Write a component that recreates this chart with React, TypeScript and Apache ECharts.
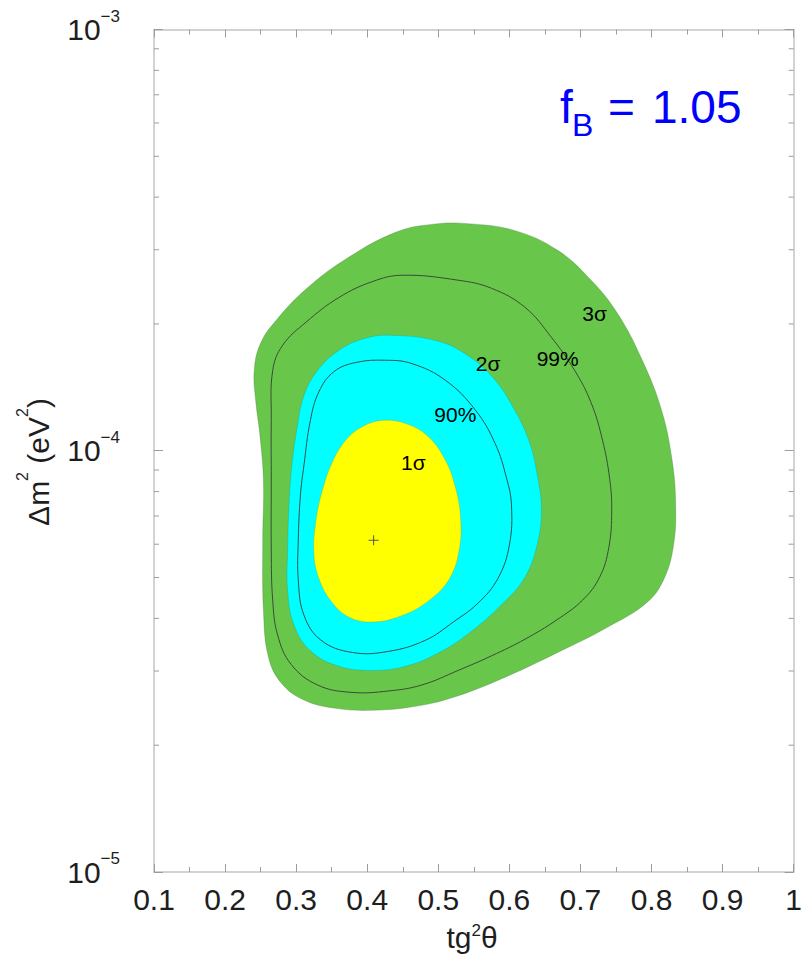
import React, { useEffect, useRef } from "react";
import * as echarts from "echarts";

const X_MIN = 0.1;
const X_MAX = 1;
const X_STEP = 0.1;
const Y_MIN = 1e-5;
const Y_MAX = 1e-3;

const yMinorTicks = [
  2e-5, 3e-5, 4e-5, 5e-5, 6e-5, 7e-5, 8e-5, 9e-5,
  2e-4, 3e-4, 4e-4, 5e-4, 6e-4, 7e-4, 8e-4, 9e-4,
];

// 3 sigma region (outer green)
const region3Sigma: [number, number][] = [
  [0.542, 3.46e-4], [0.608, 3.33e-4], [0.668, 2.99e-4], [0.715, 2.54e-4],
  [0.752, 2.12e-4], [0.787, 1.64e-4], [0.814, 1.25e-4], [0.829, 9.49e-5],
  [0.834, 7.43e-5], [0.831, 5.97e-5], [0.818, 4.98e-5], [0.794, 4.37e-5],
  [0.738, 3.81e-5], [0.668, 3.32e-5], [0.598, 2.92e-5], [0.528, 2.62e-5],
  [0.472, 2.48e-5], [0.407, 2.42e-5], [0.353, 2.45e-5], [0.311, 2.56e-5],
  [0.279, 2.81e-5], [0.261, 3.24e-5], [0.254, 4.18e-5], [0.253, 6.13e-5],
  [0.254, 8.51e-5], [0.249, 1.09e-4], [0.243, 1.32e-4], [0.241, 1.55e-4],
  [0.250, 1.80e-4], [0.274, 2.06e-4], [0.314, 2.42e-4], [0.367, 2.83e-4],
  [0.440, 3.30e-4], [0.493, 3.45e-4],
];

// 99% CL line
const line99: [number, number][] = [
  [0.449, 2.61e-4], [0.528, 2.54e-4], [0.575, 2.43e-4], [0.622, 2.19e-4],
  [0.659, 1.86e-4], [0.692, 1.55e-4], [0.715, 1.30e-4], [0.731, 1.06e-4],
  [0.741, 8.61e-5], [0.744, 7.22e-5], [0.740, 5.90e-5], [0.727, 5.01e-5],
  [0.703, 4.42e-5], [0.666, 3.96e-5], [0.622, 3.57e-5], [0.575, 3.26e-5],
  [0.528, 3.01e-5], [0.477, 2.78e-5], [0.430, 2.69e-5], [0.377, 2.67e-5],
  [0.330, 2.78e-5], [0.293, 3.11e-5], [0.274, 3.65e-5], [0.267, 4.42e-5],
  [0.265, 5.81e-5], [0.265, 8.51e-5], [0.265, 1.18e-4], [0.267, 1.55e-4],
  [0.281, 1.78e-4], [0.314, 2.02e-4], [0.360, 2.31e-4], [0.407, 2.52e-4],
];

// 2 sigma region (cyan)
const region2Sigma: [number, number][] = [
  [0.430, 1.88e-4], [0.500, 1.82e-4], [0.542, 1.68e-4], [0.577, 1.49e-4],
  [0.605, 1.27e-4], [0.628, 1.05e-4], [0.640, 8.61e-5], [0.645, 7.22e-5],
  [0.639, 5.97e-5], [0.621, 4.98e-5], [0.587, 4.28e-5], [0.545, 3.71e-5],
  [0.500, 3.31e-5], [0.454, 3.08e-5], [0.407, 3.01e-5], [0.360, 3.08e-5],
  [0.321, 3.34e-5], [0.297, 3.86e-5], [0.288, 4.67e-5], [0.288, 5.81e-5],
  [0.290, 7.43e-5], [0.294, 9.24e-5], [0.302, 1.15e-4], [0.311, 1.35e-4],
  [0.330, 1.55e-4], [0.360, 1.73e-4], [0.393, 1.84e-4],
];

// 90% CL line
const line90: [number, number][] = [
  [0.426, 1.64e-4], [0.463, 1.61e-4], [0.510, 1.47e-4], [0.552, 1.25e-4],
  [0.580, 1.04e-4], [0.596, 8.61e-5], [0.603, 7.43e-5], [0.600, 5.97e-5],
  [0.584, 4.98e-5], [0.556, 4.35e-5], [0.521, 3.92e-5], [0.482, 3.55e-5],
  [0.430, 3.34e-5], [0.379, 3.32e-5], [0.335, 3.55e-5], [0.311, 4.07e-5],
  [0.303, 4.93e-5], [0.303, 6.13e-5], [0.306, 7.84e-5], [0.311, 9.24e-5],
  [0.320, 1.18e-4], [0.332, 1.38e-4], [0.353, 1.54e-4], [0.384, 1.62e-4],
];

// 1 sigma region (yellow)
const region1Sigma: [number, number][] = [
  [0.421, 1.18e-4], [0.454, 1.16e-4], [0.486, 1.08e-4], [0.510, 9.49e-5],
  [0.524, 8.19e-5], [0.531, 7.03e-5], [0.530, 5.90e-5], [0.516, 4.98e-5],
  [0.486, 4.40e-5], [0.447, 4.05e-5], [0.407, 3.92e-5], [0.374, 4.03e-5],
  [0.349, 4.40e-5], [0.332, 4.98e-5], [0.325, 5.71e-5], [0.328, 6.84e-5],
  [0.337, 8.06e-5], [0.351, 9.39e-5], [0.370, 1.06e-4], [0.393, 1.14e-4],
];

const bestFit: [number, number][] = [[0.409, 6.13e-5]];

const contourLabels = ["1σ", "90%", "2σ", "99%", "3σ"];
const contourLabelX = [0.465, 0.524, 0.570, 0.668, 0.720];
const contourLabelY = [9.4e-5, 1.22e-4, 1.61e-4, 1.66e-4, 2.12e-4];

const FONT = "'Liberation Sans', Arial, Helvetica, sans-serif";
const GREEN = "#68c74a";
const CYAN = "#00ffff";
const YELLOW = "#ffff00";
const AXIS_COLOR = "#c4c4c4";
const TICK_COLOR = "#9c9c9c";
const TEXT_COLOR = "#1e1e1e";

function polygonSeries(pts: [number, number][], fill: string, stroke: string, lineWidth: number, z: number) {
  return {
    type: "custom",
    coordinateSystem: "cartesian2d",
    xAxisIndex: 0,
    yAxisIndex: 0,
    silent: true,
    z,
    data: pts,
    renderItem: (params: any, api: any) => {
      if (params.dataIndex !== 0) return null;
      const points = pts.map((p) => api.coord(p));
      return {
        type: "polygon",
        shape: { points, smooth: 0.4 },
        style: { fill, stroke, lineWidth },
      };
    },
  };
}

export default function App() {
  const ref = useRef<HTMLDivElement>(null);

  useEffect(() => {
    if (!ref.current) return;
    const chart = echarts.init(ref.current, undefined, { renderer: "svg" });

    const xAxisBase = {
      type: "value",
      min: X_MIN,
      max: X_MAX,
      interval: X_STEP,
      splitLine: { show: false },
      axisLine: { show: true, lineStyle: { color: AXIS_COLOR, width: 1.5 } },
      axisTick: { show: true, inside: true, length: 8, lineStyle: { color: TICK_COLOR, width: 1 } },
      minorTick: { show: true, splitNumber: 2, length: 5, lineStyle: { color: TICK_COLOR, width: 1 } },
    };
    const yAxisBase = {
      type: "log",
      logBase: 10,
      min: Y_MIN,
      max: Y_MAX,
      splitLine: { show: false },
      axisLine: { show: true, lineStyle: { color: AXIS_COLOR, width: 1.5 } },
      axisTick: { show: true, inside: true, length: 9, lineStyle: { color: TICK_COLOR, width: 1 } },
      minorTick: { show: false },
    };

    const option: any = {
      animation: false,
      backgroundColor: "#ffffff",
      grid: { left: 154, right: 8, top: 29.5, bottom: 85, containLabel: false },
      xAxis: [
        {
          ...xAxisBase,
          position: "bottom",
          axisLabel: {
            show: true,
            fontSize: 30,
            fontFamily: FONT,
            color: TEXT_COLOR,
            margin: 12,
            interval: 0,
            showMinLabel: true,
            showMaxLabel: true,
            hideOverlap: false,
            formatter: (v: number) => String(Number(v.toFixed(1))),
          },
        },
        { ...xAxisBase, position: "top", axisLabel: { show: false } },
      ],
      yAxis: [
        {
          ...yAxisBase,
          position: "left",
          axisLabel: {
            show: true,
            margin: 34,
            showMinLabel: true,
            showMaxLabel: true,
            formatter: (v: number) => {
              const e = Math.round(Math.log10(v));
              return `{a|10}{b|${e < 0 ? "−" + -e : e}}`;
            },
            rich: {
              a: { fontSize: 30, lineHeight: 44, fontFamily: FONT, color: TEXT_COLOR },
              b: { fontSize: 17, lineHeight: 17, verticalAlign: "top", fontFamily: FONT, color: TEXT_COLOR },
            },
          },
        },
        { ...yAxisBase, position: "right", axisLabel: { show: false } },
      ],
      graphic: [
        {
          type: "text",
          x: 472,
          y: 937,
          silent: true,
          style: {
            text: "{a|tg}{b|2}{a|θ}",
            align: "center",
            verticalAlign: "middle",
            rich: {
              a: { fontSize: 30, lineHeight: 30, fontFamily: FONT, fill: TEXT_COLOR },
              b: { fontSize: 17, lineHeight: 17, verticalAlign: "top", fontFamily: FONT, fill: TEXT_COLOR },
            },
          },
        },
        {
          type: "text",
          x: 38,
          y: 462,
          rotation: Math.PI / 2,
          silent: true,
          style: {
            text: "{a|Δm}{b|2}{a| (eV}{b|2}{a|)}",
            align: "center",
            verticalAlign: "middle",
            rich: {
              a: { fontSize: 30, lineHeight: 48, fontFamily: FONT, fill: TEXT_COLOR },
              b: { fontSize: 16, lineHeight: 16, verticalAlign: "top", fontFamily: FONT, fill: TEXT_COLOR },
            },
          },
        },
        {
          type: "text",
          x: 560,
          y: 107,
          silent: true,
          style: { text: "f", fontSize: 46, fontFamily: FONT, fill: "#0000ff", align: "left", verticalAlign: "middle" },
        },
        {
          type: "text",
          x: 572,
          y: 124.5,
          silent: true,
          style: { text: "B", fontSize: 32, fontFamily: FONT, fill: "#0000ff", align: "left", verticalAlign: "middle" },
        },
        {
          type: "text",
          x: 608,
          y: 107,
          silent: true,
          style: { text: "=", fontSize: 46, fontFamily: FONT, fill: "#0000ff", align: "left", verticalAlign: "middle" },
        },
        {
          type: "text",
          x: 652,
          y: 107,
          silent: true,
          style: { text: "1.05", fontSize: 46, fontFamily: FONT, fill: "#0000ff", align: "left", verticalAlign: "middle" },
        },
      ],
      series: [
        polygonSeries(region3Sigma, GREEN, "rgba(60,110,50,0.5)", 0.6, 1),
        polygonSeries(line99, "none", "#3b4a3b", 1, 2),
        polygonSeries(region2Sigma, CYAN, "rgba(40,140,140,0.5)", 0.6, 3),
        polygonSeries(line90, "none", "#2f4f4f", 1, 4),
        polygonSeries(region1Sigma, YELLOW, "rgba(150,150,40,0.5)", 0.6, 5),
        {
          type: "custom",
          coordinateSystem: "cartesian2d",
          silent: true,
          z: 6,
          data: bestFit,
          renderItem: (params: any, api: any) => {
            const c = api.coord([api.value(0), api.value(1)]);
            return {
              type: "group",
              children: [
                { type: "line", shape: { x1: c[0] - 5, y1: c[1], x2: c[0] + 5, y2: c[1] }, style: { stroke: "#555", lineWidth: 1 } },
                { type: "line", shape: { x1: c[0], y1: c[1] - 5, x2: c[0], y2: c[1] + 5 }, style: { stroke: "#555", lineWidth: 1 } },
              ],
            };
          },
        },
        {
          type: "custom",
          coordinateSystem: "cartesian2d",
          silent: true,
          z: 7,
          data: contourLabelX.map((x, i) => [x, contourLabelY[i]]),
          renderItem: (params: any, api: any) => {
            const c = api.coord([api.value(0), api.value(1)]);
            return {
              type: "text",
              x: c[0],
              y: c[1],
              style: {
                text: contourLabels[params.dataIndex],
                fontSize: 21,
                fontFamily: FONT,
                fill: "#000",
                align: "center",
                verticalAlign: "middle",
              },
            };
          },
        },
        {
          type: "custom",
          coordinateSystem: "cartesian2d",
          silent: true,
          z: 8,
          clip: false,
          data: yMinorTicks.map((v) => [X_MIN, v]),
          renderItem: (params: any, api: any) => {
            const l = api.coord([X_MIN, api.value(1)]);
            const r = api.coord([X_MAX, api.value(1)]);
            return {
              type: "group",
              children: [
                { type: "line", shape: { x1: l[0], y1: l[1], x2: l[0] + 5, y2: l[1] }, style: { stroke: TICK_COLOR, lineWidth: 1 } },
                { type: "line", shape: { x1: r[0] - 5, y1: r[1], x2: r[0], y2: r[1] }, style: { stroke: TICK_COLOR, lineWidth: 1 } },
              ],
            };
          },
        },
      ],
    };

    chart.setOption(option);
    return () => chart.dispose();
  }, []);

  return (
    <div
      ref={ref}
      style={{ position: "fixed", left: 0, top: 0, width: 805, height: 957, background: "#fff" }}
    />
  );
}
